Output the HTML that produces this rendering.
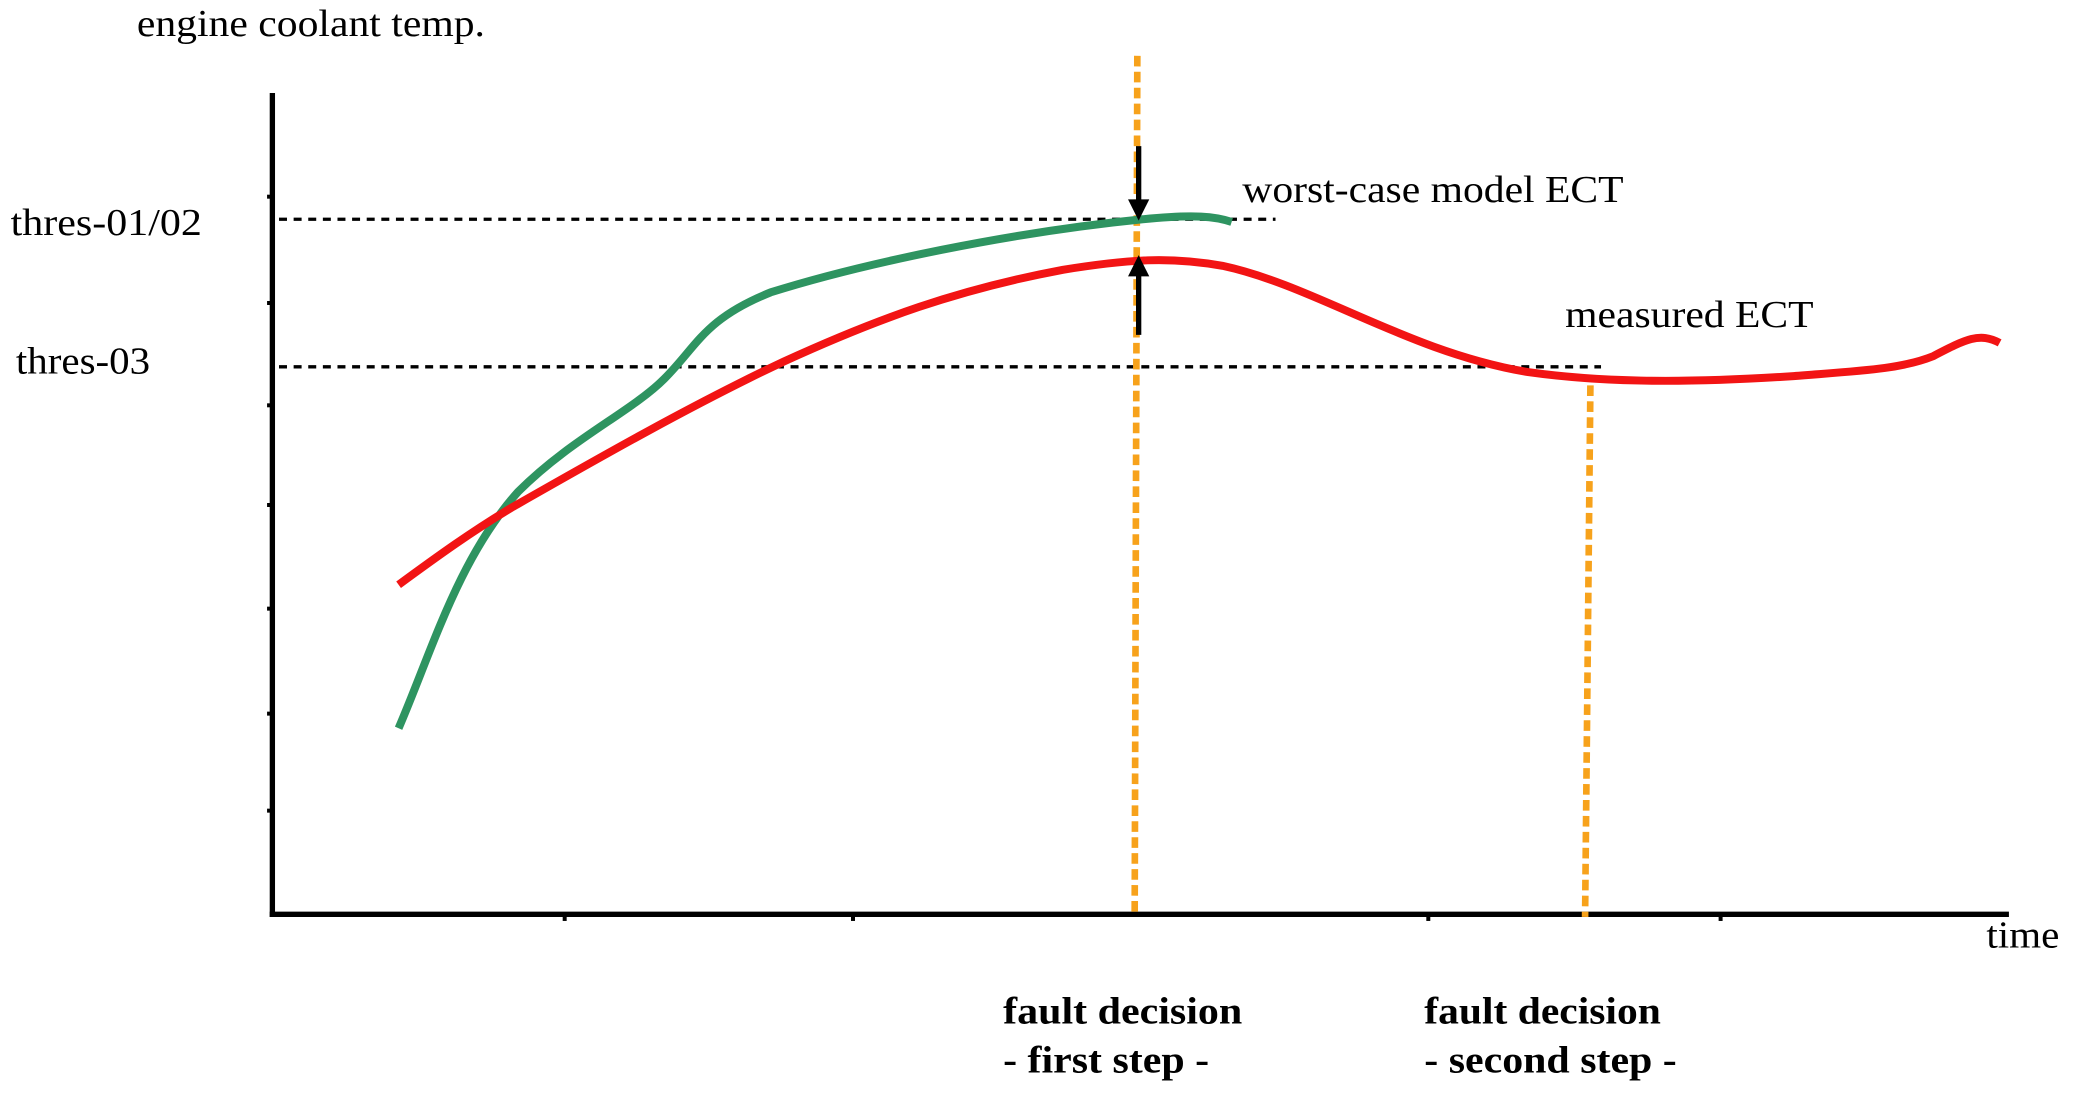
<!DOCTYPE html>
<html><head><style>html,body{margin:0;padding:0;background:#fff;}svg{display:block}</style></head>
<body>
<svg width="2082" height="1107" viewBox="0 0 1567 833" preserveAspectRatio="none" xmlns="http://www.w3.org/2000/svg" font-family="Liberation Serif, serif" font-size="29">
<text x="103" y="27" textLength="262" lengthAdjust="spacingAndGlyphs">engine coolant temp.</text>
<text x="8" y="177" textLength="144" lengthAdjust="spacingAndGlyphs">thres-01/02</text>
<text x="12" y="281" textLength="101" lengthAdjust="spacingAndGlyphs">thres-03</text>
<text x="935" y="152" textLength="287" lengthAdjust="spacingAndGlyphs">worst-case model ECT</text>
<text x="1178" y="246" textLength="187" lengthAdjust="spacingAndGlyphs">measured ECT</text>
<text x="1495" y="713" textLength="55" lengthAdjust="spacingAndGlyphs">time</text>
<g font-weight="bold">
<text x="755" y="770" textLength="180" lengthAdjust="spacingAndGlyphs">fault decision</text>
<text x="755" y="807" textLength="155" lengthAdjust="spacingAndGlyphs">- first step -</text>
<text x="1072" y="770" textLength="178" lengthAdjust="spacingAndGlyphs">fault decision</text>
<text x="1072" y="807" textLength="190" lengthAdjust="spacingAndGlyphs">- second step -</text>
</g>
<g stroke="#000" stroke-width="4" fill="none">
<line x1="205" y1="70" x2="205" y2="690"/>
<line x1="203" y1="688" x2="1512" y2="688"/>
</g>
<g stroke="#000" stroke-width="3">
<line x1="201" y1="148" x2="205" y2="148"/><line x1="201" y1="228" x2="205" y2="228"/>
<line x1="201" y1="305" x2="205" y2="305"/><line x1="201" y1="380" x2="205" y2="380"/>
<line x1="201" y1="458" x2="205" y2="458"/><line x1="201" y1="537" x2="205" y2="537"/>
<line x1="201" y1="610" x2="205" y2="610"/>
<line x1="425" y1="688" x2="425" y2="693"/><line x1="642" y1="688" x2="642" y2="693"/>
<line x1="1075" y1="688" x2="1075" y2="693"/><line x1="1295" y1="688" x2="1295" y2="693"/>
</g>
<g stroke="#000" stroke-width="2.5" stroke-dasharray="6,5">
<line x1="210" y1="165" x2="960" y2="165"/>
<line x1="210" y1="276" x2="1205" y2="276"/>
</g>
<g stroke="#f7a21b" stroke-width="5" stroke-dasharray="8,4">
<line x1="856" y1="42" x2="854" y2="690"/>
<line x1="1197" y1="290" x2="1193" y2="690"/>
</g>
<path d="M300,548 C325,490 345,420 390,370 C430,330 475,310 500,285 C525,260 530,240 580,220 C650,198 760,175 860,165 C900,161 915,163 927,167" stroke="#2e9461" stroke-width="6" fill="none"/>
<path d="M300,440 C330,418 355,400 385,382 C450,345 520,305 590,272 C660,240 720,218 800,203 C850,195 880,193 920,200 C990,215 1060,265 1150,280 C1200,287 1260,289 1350,283 C1400,279 1430,278 1455,268 C1480,255 1490,250 1505,258" stroke="#f21414" stroke-width="6" fill="none"/>
<g stroke="#000" stroke-width="4">
<line x1="857" y1="110" x2="857" y2="152"/>
<line x1="857" y1="205" x2="857" y2="252"/>
</g>
<polygon points="849,150 865,150 857,166" fill="#000"/>
<polygon points="849,208 865,208 857,192" fill="#000"/>
</svg>
</body></html>
